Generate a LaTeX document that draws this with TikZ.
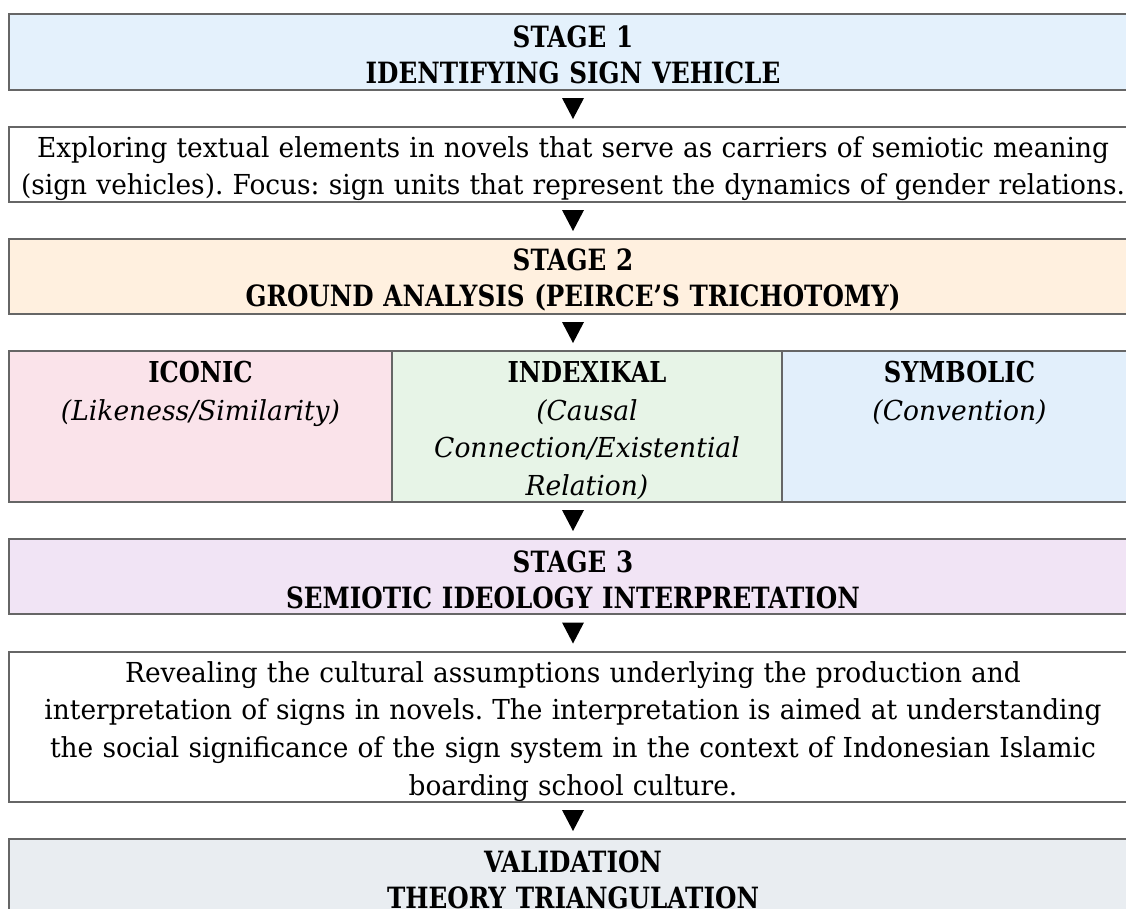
\documentclass[tikz,border=0pt]{standalone}
\usepackage{fontspec}
\setmainfont{DejaVu Serif}[UprightFeatures={FakeStretch=0.96},ItalicFeatures={FakeStretch=0.965},BoldFeatures={FakeStretch=0.84}]
\usetikzlibrary{calc}
\definecolor{bordercol}{HTML}{666666}
\definecolor{blueA}{HTML}{E4F1FC}
\definecolor{orangeA}{HTML}{FFF0DF}
\definecolor{pinkA}{HTML}{FAE3EA}
\definecolor{greenA}{HTML}{E7F4E7}
\definecolor{blueB}{HTML}{E2EFFB}
\definecolor{purpleA}{HTML}{F1E4F5}
\definecolor{greyA}{HTML}{E9EDF1}
\newcommand\downtri[2]{%
  \coordinate (m#1#2) at ($(#1.south)!0.5!(#2.north)$);
  \fill[black] (m#1#2) ++(-11,-10.5) -- ++(22,0) -- ++(-11,21) -- cycle;}
\frenchspacing
\begin{document}
\begin{tikzpicture}[x=1pt,y=-1pt,
  box/.style={draw=bordercol, line width=1.3pt, rectangle, inner sep=0pt, outer sep=0pt, anchor=north west},
  txt/.style={anchor=base, inner sep=0pt, text width=1300pt, align=center},
  body/.style={txt, font=\fontsize{27.5}{37.8}\selectfont},
  head/.style={txt, font=\fontsize{29.3}{36}\selectfont\bfseries},
  cellhead/.style={txt, font=\fontsize{28.8}{38}\selectfont\bfseries},
  ital/.style={txt, font=\fontsize{27.5}{37.5}\selectfont\itshape}]
\useasboundingbox (0,0) rectangle (1126,908);
\clip (0,0) rectangle (1126,908);
% boxes
\node[box, fill=blueA, minimum width=1128pt, minimum height=76pt] (s1) at (9,14) {};
\node[box, fill=white, minimum width=1128pt, minimum height=75pt] (d1) at (9,127) {};
\node[box, fill=orangeA, minimum width=1128pt, minimum height=75pt] (s2) at (9,239) {};
\node[box, draw=none, minimum width=1128pt, minimum height=151pt] (row) at (9,351) {};
\node[box, fill=pinkA, minimum width=383pt, minimum height=151pt] (c1) at (9,351) {};
\node[box, fill=greenA, minimum width=390pt, minimum height=151pt] (c2) at (392,351) {};
\node[box, fill=blueB, minimum width=355pt, minimum height=151pt] (c3) at (782,351) {};
\node[box, fill=purpleA, minimum width=1128pt, minimum height=75pt] (s3) at (9,539) {};
\node[box, fill=white, minimum width=1128pt, minimum height=150pt] (d3) at (9,652) {};
\node[box, fill=greyA, minimum width=1128pt, minimum height=120pt] (s4) at (9,839) {};
% texts
\node[head] (t1) at (573,47) {STAGE 1\\IDENTIFYING SIGN VEHICLE};
\node[body] (t2) at (573,157) {Exploring textual elements in novels that serve as carriers of semiotic meaning\\(sign vehicles). Focus: sign units that represent the dynamics of gender relations.};
\node[head] (t3) at (573,270) {STAGE 2\\GROUND ANALYSIS (PEIRCE’S TRICHOTOMY)};
\node[cellhead] (t4) at (c1.north |- 0,382) {ICONIC};
\node[ital] (t5) at (c1.north |- 0,420) {(Likeness/Similarity)};
\node[cellhead] (t6) at (c2.north |- 0,382) {INDEXIKAL};
\node[ital] (t7) at (c2.north |- 0,420) {(Causal\\Connection/Existential\\Relation)};
\node[cellhead] (t8) at (c3.north |- 0,382) {SYMBOLIC};
\node[ital] (t9) at (c3.north |- 0,420) {(Convention)};
\node[head] (t10) at (573,572) {STAGE 3\\SEMIOTIC IDEOLOGY INTERPRETATION};
\node[body] (t11) at (573,682) {Revealing the cultural assumptions underlying the production and\\interpretation of signs in novels. The interpretation is aimed at understanding\\the social significance of the sign system in the context of Indonesian Islamic\\boarding school culture.};
\node[head] (t12) at (573,872) {VALIDATION\\THEORY TRIANGULATION};
% arrows
\downtri{s1}{d1}
\downtri{d1}{s2}
\downtri{s2}{row}
\downtri{row}{s3}
\downtri{s3}{d3}
\downtri{d3}{s4}
\end{tikzpicture}
\end{document}
